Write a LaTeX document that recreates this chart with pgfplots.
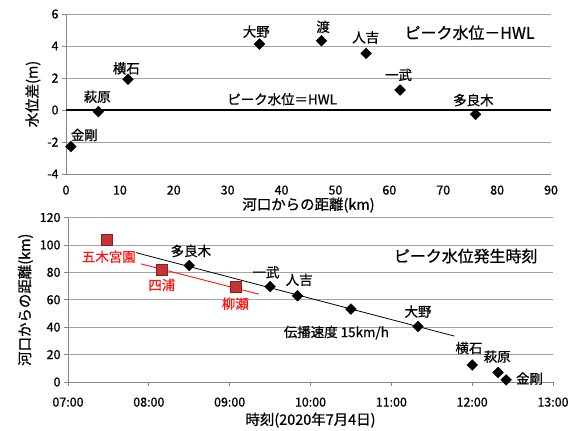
\documentclass[border=0pt]{standalone}
\usepackage{fontspec}
\setmainfont{Noto Sans CJK JP}[FakeBold=0.8]
\usepackage{pgfplots}
\pgfplotsset{compat=1.18}

\definecolor{gridgray}{RGB}{165,165,165}
\definecolor{axgray}{RGB}{134,134,134}
\definecolor{sqred}{RGB}{196,52,52}
\definecolor{sqedge}{RGB}{140,30,30}
\definecolor{lblred}{RGB}{255,20,20}

\tikzset{lbl/.style={font=\fontsize{13.5}{15}\selectfont}}
\pgfplotsset{
  excel/.style={
    scale only axis,
    axis x line*=bottom, axis y line*=left,
    axis line style={axgray, line width=0.8pt},
    ymajorgrids, grid style={gridgray, line width=0.8pt},
    tick align=outside, major tick length=4bp,
    tick style={axgray, line width=0.8pt},
    tick label style={font=\fontsize{12.5}{14}\selectfont},
    /pgf/number format/assume math mode=true,
    label style={font=\fontsize{14.5}{16}\selectfont},
    clip=false,
  },
  diam/.style={only marks, mark=square*, mark size=3.8bp,
    mark options={rotate=45, fill=black, draw=black}},
}

\begin{document}
\begin{tikzpicture}[x=1bp,y=1bp]
\useasboundingbox (0,0) rectangle (573,430);

% upper panel: peak level minus HWL
\begin{axis}[excel, at={(66bp,256bp)}, anchor=south west,
  width=485bp, height=160bp,
  xmin=0, xmax=90, ymin=-4, ymax=6,
  xtick={0,10,...,90}, ytick={-4,-2,...,6},
  xtick style={draw=none},
  xticklabel style={yshift=-4bp},
  xlabel style={yshift=4bp},
  xlabel={河口からの距離(km)}, ylabel={水位差(m)}]
\addplot[black, line width=1.6pt] coordinates {(0,0) (90,0)};
\addplot[diam] coordinates {
  (0.9,-2.29) (6.0,-0.10) (11.5,1.92) (35.9,4.12)
  (47.4,4.33) (55.7,3.54) (62.0,1.25) (76.0,-0.27)
};
\node[lbl] at (axis cs:3.4,-1.56) {金剛};
\node[lbl] at (axis cs:5.8,0.83) {萩原};
\node[lbl] at (axis cs:11.2,2.6) {横石};
\node[lbl] at (axis cs:35.3,4.9) {大野};
\node[lbl] at (axis cs:47.7,5.2) {渡};
\node[lbl] at (axis cs:55.6,4.54) {人吉};
\node[lbl] at (axis cs:61.7,2.19) {一武};
\node[lbl] at (axis cs:75.6,0.62) {多良木};
\node[lbl] at (axis cs:40.1,0.67) {ピーク水位＝HWL};
\node[font=\fontsize{16}{18}\selectfont] at (axis cs:74.9,4.83) {ピーク水位－HWL};
\end{axis}

% lower panel: time of peak level
\begin{axis}[excel, at={(68bp,48bp)}, anchor=south west,
  width=485bp, height=164.5bp,
  xmin=7, xmax=13, ymin=0, ymax=120,
  xtick={7,...,13},
  xticklabels={07:00,08:00,09:00,10:00,11:00,12:00,13:00},
  ytick={0,20,...,120},
  xticklabel style={yshift=-8bp},
  xlabel style={yshift=1bp},
  xlabel={時刻(2020年7月4日)}, ylabel={河口からの距離(km)}]
\addplot[black, line width=0.8pt] coordinates {(7.84,94.4) (11.78,33.5)};
\addplot[lblred, line width=0.9pt] coordinates {(7.90,86.2) (9.36,64.1)};
\addplot[diam] coordinates {
  (8.50,85.0) (9.50,69.6) (9.84,62.9) (10.50,53.2)
  (11.33,40.5) (12.00,12.4) (12.32,7.0) (12.42,1.5)
};
\addplot[only marks, mark=square*, mark size=5.5bp,
  mark options={fill=sqred, draw=sqedge, line width=0.6pt}] coordinates {
  (7.48,103.4) (8.16,81.5) (9.08,69.1)
};
\node[lbl, text=lblred] at (axis cs:7.505,91.4) {五木宮園};
\node[lbl, text=lblred] at (axis cs:8.16,70.8) {四浦};
\node[lbl, text=lblred] at (axis cs:9.07,57.1) {柳瀬};
\node[lbl] at (axis cs:8.52,95.6) {多良木};
\node[lbl] at (axis cs:9.45,80.0) {一武};
\node[lbl] at (axis cs:9.86,74.5) {人吉};
\node[lbl] at (axis cs:11.33,51.4) {大野};
\node[lbl] at (axis cs:11.96,24.8) {横石};
\node[lbl] at (axis cs:12.31,18.6) {萩原};
\node[lbl] at (axis cs:12.71,2.5) {金剛};
\node[lbl] at (axis cs:10.32,36.0) {伝播速度 15km/h};
\node[font=\fontsize{16}{18}\selectfont] at (axis cs:11.92,91.9) {ピーク水位発生時刻};
\end{axis}
\end{tikzpicture}
\end{document}
